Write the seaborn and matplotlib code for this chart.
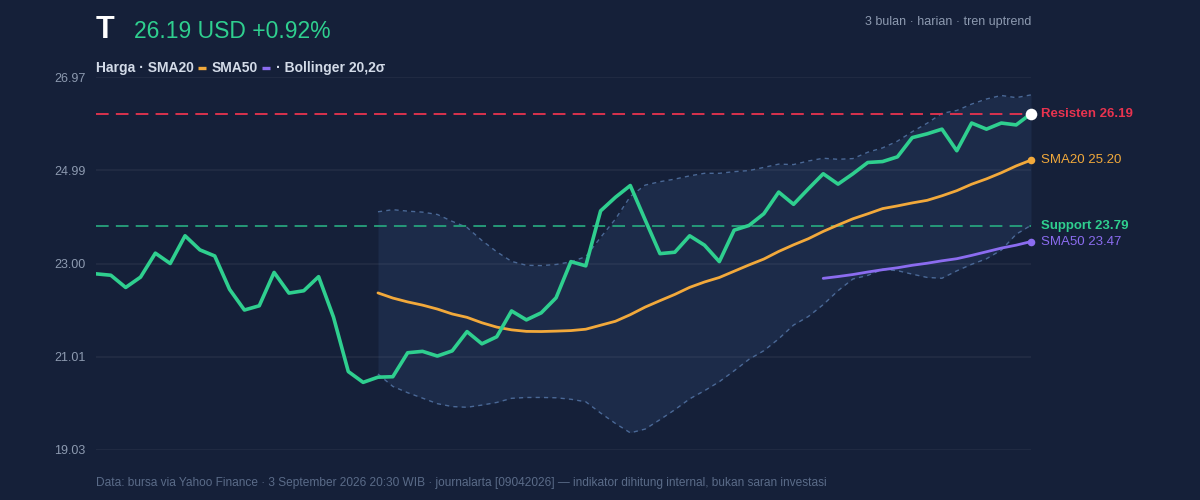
import pandas as pd
import numpy as np
import matplotlib
matplotlib.use('Agg')
import matplotlib.pyplot as plt
from matplotlib.lines import Line2D
import seaborn as sns

# daily closes (64 sessions)
PRICE = [22.78, 22.75, 22.49, 22.71, 23.22, 23.00, 23.59, 23.29, 23.16, 22.45,
         22.01, 22.10, 22.81, 22.37, 22.42, 22.72, 21.86, 20.70, 20.47, 20.58,
         20.59, 21.10, 21.13, 21.03, 21.14, 21.55, 21.29, 21.44, 21.99, 21.80,
         21.95, 22.27, 23.04, 22.95, 24.12, 24.41, 24.66, 23.93, 23.21, 23.24,
         23.59, 23.39, 23.04, 23.71, 23.81, 24.06, 24.52, 24.26, 24.59, 24.91,
         24.69, 24.91, 25.15, 25.17, 25.27, 25.68, 25.76, 25.86, 25.40, 25.99,
         25.86, 25.99, 25.95, 26.19]
RESISTANCE = 26.19
SUPPORT = 23.79
Y_TICKS = [19.03, 21.01, 23.00, 24.99, 26.97]
TICKER = 'T'
SUBTITLE = '3 bulan · harian · tren uptrend'
FOOTER = ('Data: bursa via Yahoo Finance · 3 September 2026 20:30 WIB · '
          'journalarta [09042026] — indikator dihitung internal, bukan saran investasi')

BG = '#152039'
BAND = '#1c2b49'
GREEN = '#2fcf8f'
ORANGE = '#f2a93b'
PURPLE = '#8b6cf0'
RED = '#e8334f'
TEAL = '#27a27c'
EDGE = '#4a6896'
TICK = '#8d9ab0'
FOOT = '#5a6b88'
LEGEND = '#d3dbe8'

W, H = 1200, 500


def build_frame():
    df = pd.DataFrame({'close': PRICE})
    df['day'] = np.arange(len(df))
    roll = df['close'].rolling(20)
    df['sma20'] = roll.mean()
    sd = roll.std(ddof=0)
    df['upper'] = df['sma20'] + 2 * sd
    df['lower'] = df['sma20'] - 2 * sd
    df['sma50'] = df['close'].rolling(50).mean()
    return df


def plot_chart(df):
    sns.set_theme(style='dark')
    plt.rcParams['font.family'] = ['Liberation Sans', 'DejaVu Sans']

    fig = plt.figure(figsize=(12, 5), dpi=100)
    fig.patch.set_facecolor(BG)
    ax = fig.add_axes([96 / W, 50 / H, (1031 - 96) / W, (450 - 77) / H])
    ax.set_facecolor(BG)

    band = df.dropna(subset=['sma20'])
    ax.fill_between(band['day'], band['lower'], band['upper'], color=BAND, lw=0, zorder=1)
    for col in ['upper', 'lower']:
        ax.plot(band['day'], band[col], color=EDGE, lw=1, ls=(0, (3, 3)), zorder=2)

    for t in Y_TICKS:
        ax.axhline(t, color='white', alpha=0.055, lw=1.2, zorder=1.5)

    ax.axhline(RESISTANCE, color=RED, lw=1.3, ls=(0, (7, 4)), zorder=2)
    ax.axhline(SUPPORT, color=TEAL, lw=1.3, ls=(0, (7, 4)), zorder=2)

    sns.lineplot(data=df, x='day', y='sma50', color=PURPLE, lw=2, ax=ax, zorder=3)
    sns.lineplot(data=df, x='day', y='sma20', color=ORANGE, lw=2, ax=ax, zorder=3)
    sns.lineplot(data=df, x='day', y='close', color=GREEN, lw=2.6, ax=ax, zorder=4)

    last = df.iloc[-1]
    ax.scatter([last['day']], [last['sma20']], s=30, color=ORANGE, zorder=5, lw=0, clip_on=False)
    ax.scatter([last['day']], [last['sma50']], s=30, color=PURPLE, zorder=5, lw=0, clip_on=False)
    ax.scatter([last['day']], [last['close']], s=70, color='white', zorder=6, lw=0, clip_on=False)

    def tag(y, text, color, bold=False):
        ax.annotate(text, xy=(last['day'], y), xytext=(7, 0), textcoords='offset points',
                    va='center', ha='left', color=color, fontsize=9.5,
                    fontweight='bold' if bold else 'normal', annotation_clip=False)

    tag(RESISTANCE, f'Resisten {RESISTANCE:.2f}', RED, bold=True)
    tag(last['sma20'], f"SMA20 {last['sma20']:.2f}", ORANGE)
    tag(SUPPORT, f'Support {SUPPORT:.2f}', GREEN, bold=True)
    tag(last['sma50'], f"SMA50 {last['sma50']:.2f}", PURPLE)

    ax.set_xlim(0, len(df) - 1)
    ax.set_ylim(Y_TICKS[0], Y_TICKS[-1])
    ax.set_yticks(Y_TICKS)
    ax.set_yticklabels([f'{t:.2f}' for t in Y_TICKS])
    ax.set_xticks([])
    ax.set_xlabel('')
    ax.set_ylabel('')
    ax.grid(False)
    ax.tick_params(axis='y', colors=TICK, labelsize=9, length=0, pad=7.5)
    for s in ax.spines.values():
        s.set_visible(False)

    # header
    prev = df['close'].iloc[-2]
    pct = (last['close'] / prev - 1) * 100
    fig.text(96 / W, 1 - 38 / H, TICKER, color='white', fontsize=22, fontweight='bold',
             va='baseline', ha='left')
    fig.text(134 / W, 1 - 38 / H, f"{last['close']:.2f} USD {pct:+.2f}%", color=GREEN,
             fontsize=16.5, va='baseline', ha='left')
    fig.text(1031 / W, 1 - 25.5 / H, SUBTITLE, color=TICK, fontsize=9, va='baseline', ha='right')
    fig.text(96 / W, 1 - 486 / H, FOOTER, color=FOOT, fontsize=8.6, va='baseline', ha='left')

    # legend row built piece by piece
    fig.canvas.draw()
    renderer = fig.canvas.get_renderer()
    parts = [('t', 'Harga · SMA20'), ('d', ORANGE), ('t', 'SMA50'), ('d', PURPLE),
             ('t', '· Bollinger 20,2σ')]
    x = 96
    base = 1 - 72 / H
    mid = 1 - 67.5 / H
    for kind, val in parts:
        if kind == 't':
            t = fig.text(x / W, base, val, color=LEGEND, fontsize=10, fontweight='bold',
                         va='baseline', ha='left')
            x += t.get_window_extent(renderer).width + 4
        else:
            fig.add_artist(Line2D([x / W, (x + 8) / W], [mid, mid], color=val, lw=2.4,
                                  solid_capstyle='butt', transform=fig.transFigure))
            x += 14

    plt.savefig('out.png', dpi=100, facecolor=fig.get_facecolor())
    plt.close()


if __name__ == '__main__':
    plot_chart(build_frame())
